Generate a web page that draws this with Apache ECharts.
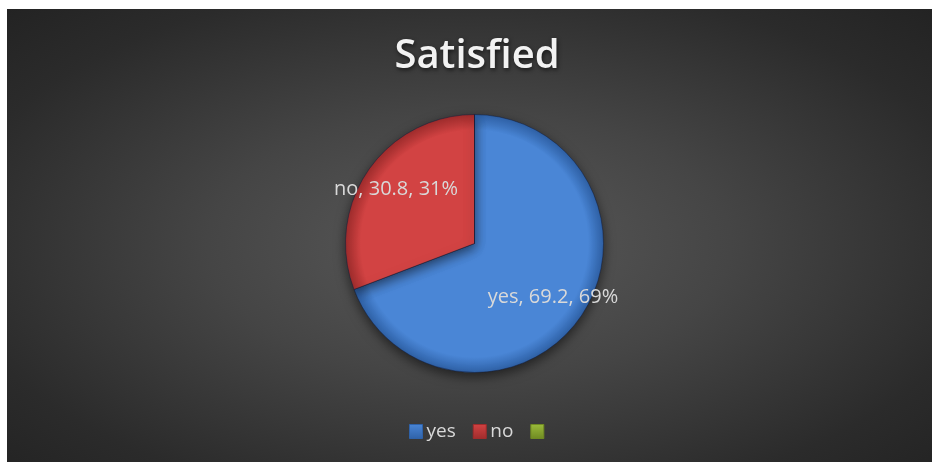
<!DOCTYPE html>
<html>
<head>
<meta charset="utf-8">
<script src="https://cdn.jsdelivr.net/npm/echarts@6/dist/echarts.min.js"></script>
<style>
html,body{margin:0;padding:0;background:#fff;width:932px;height:462px;overflow:hidden;}
#chart{position:absolute;left:7px;top:9px;width:925px;height:453px;
background:radial-gradient(ellipse farthest-corner at 50% 52%, #5a5a5a 0%, #454545 40%, #2b2b2b 80%, #232323 100%);}
</style>
</head>
<body>
<div id="chart"></div>
<script>
const title = 'Satisfied';
const categories = ['yes', 'no', ' '];
const values = [69.2, 30.8, 0];
const percents = [69, 31, 0];

const baseColors = ['#4a86d6', '#d24343', '#9bbb3b'];
const rimColors = ['#2f62a8', '#a02c2c', '#6f8a22'];

const cx = 467.5, cy = 234.5, R = 129;

const chart = echarts.init(document.getElementById('chart'), null, {renderer: 'canvas'});

function sectorColor(i) {
  return {
    type: 'radial', x: cx, y: cy, r: R, global: true,
    colorStops: [
      {offset: 0, color: baseColors[i]},
      {offset: 0.88, color: baseColors[i]},
      {offset: 1, color: rimColors[i]}
    ]
  };
}
function iconColor(i) {
  return {
    type: 'linear', x: 0, y: 0, x2: 0, y2: 1,
    colorStops: [
      {offset: 0, color: baseColors[i]},
      {offset: 1, color: rimColors[i]}
    ]
  };
}

const mainData = categories.map((c, i) => ({
  name: c, value: values[i],
  itemStyle: {color: sectorColor(i)},
  label: {show: false}
}));

const labelData = categories.map((c, i) => ({
  name: c, value: values[i],
  label: {show: values[i] > 0, formatter: c + ', ' + values[i] + ', ' + percents[i] + '%'}
}));

chart.setOption({
  backgroundColor: 'transparent',
  animation: false,
  title: {
    text: title, left: 465, top: 23, textAlign: 'center',
    textStyle: {
      fontFamily: 'Open Sans', fontWeight: 600, fontSize: 40, color: '#f2f2f2',
      textShadowColor: 'rgba(0,0,0,0.6)', textShadowBlur: 4, textShadowOffsetX: 1, textShadowOffsetY: 2
    }
  },
  legend: {
    data: categories.map((c, i) => ({name: c, itemStyle: {color: iconColor(i), borderColor: rimColors[i], borderWidth: 1}})),
    left: 397, top: 408,
    icon: 'rect', itemWidth: 13, itemHeight: 14, itemGap: 17,
    textStyle: {fontFamily: 'Open Sans', fontSize: 19, color: '#d9d9d9', padding: [0, 0, 0, -1]}
  },
  series: [
    {
      type: 'pie', name: 'main', center: [cx, cy], radius: [0, R],
      startAngle: 90, clockwise: true,
      label: {show: false}, labelLine: {show: false},
      emphasis: {disabled: true},
      itemStyle: {
        borderColor: 'rgba(20,30,60,0.5)', borderWidth: 1,
        shadowColor: 'rgba(0,0,0,0.55)', shadowBlur: 12, shadowOffsetY: 4
      },
      data: mainData
    },
    {
      type: 'pie', name: 'labels', center: [cx, cy], radius: [R * 0.43, R],
      startAngle: 90, clockwise: true, silent: true,
      itemStyle: {color: 'rgba(0,0,0,0)'},
      label: {position: 'inside', fontFamily: 'Open Sans', fontSize: 20, color: '#d9d9d9'},
      labelLine: {show: false},
      emphasis: {disabled: true},
      data: labelData
    }
  ]
});
</script>
</body>
</html>
